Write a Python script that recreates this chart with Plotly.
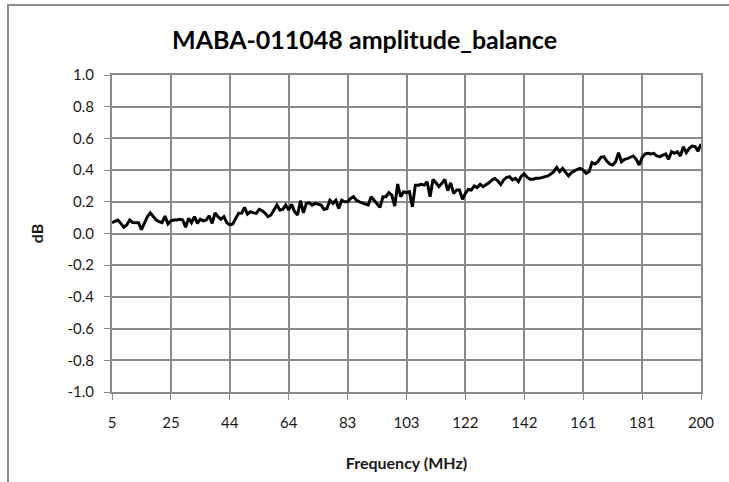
import plotly.graph_objects as go

# Frequency axis: 201 points from 5 to 200 MHz (step 0.975 MHz)
n_points = 201
f_start = 5.0
f_step = 0.975
freq_mhz = [round(f_start + f_step * i, 3) for i in range(n_points)]

amp_balance_db = [
    0.068, 0.075, 0.085, 0.064, 0.040, 0.054, 0.085, 0.070, 0.070, 0.068,
    0.025, 0.064, 0.106, 0.130, 0.110, 0.085, 0.075, 0.068, 0.110, 0.060,
    0.080, 0.085, 0.085, 0.090, 0.085, 0.040, 0.095, 0.068, 0.106, 0.064,
    0.090, 0.080, 0.085, 0.112, 0.064, 0.130, 0.106, 0.090, 0.106, 0.068,
    0.054, 0.060, 0.095, 0.127, 0.127, 0.165, 0.123, 0.138, 0.130, 0.127,
    0.152, 0.144, 0.127, 0.106, 0.117, 0.152, 0.180, 0.148, 0.152, 0.180,
    0.148, 0.184, 0.138, 0.117, 0.207, 0.130, 0.190, 0.194, 0.179, 0.190,
    0.185, 0.179, 0.152, 0.158, 0.210, 0.190, 0.210, 0.158, 0.210, 0.200,
    0.200, 0.221, 0.232, 0.210, 0.200, 0.194, 0.185, 0.179, 0.232, 0.210,
    0.190, 0.165, 0.232, 0.232, 0.257, 0.242, 0.173, 0.312, 0.232, 0.263,
    0.257, 0.263, 0.168, 0.305, 0.305, 0.310, 0.305, 0.326, 0.232, 0.341,
    0.320, 0.295, 0.316, 0.341, 0.270, 0.320, 0.253, 0.274, 0.274, 0.215,
    0.253, 0.278, 0.274, 0.300, 0.290, 0.310, 0.295, 0.305, 0.320, 0.337,
    0.347, 0.333, 0.310, 0.338, 0.354, 0.358, 0.338, 0.348, 0.327, 0.363,
    0.375, 0.354, 0.342, 0.342, 0.348, 0.348, 0.354, 0.358, 0.363, 0.375,
    0.390, 0.417, 0.390, 0.411, 0.390, 0.363, 0.384, 0.396, 0.405, 0.411,
    0.400, 0.380, 0.390, 0.447, 0.439, 0.453, 0.480, 0.485, 0.457, 0.439,
    0.432, 0.453, 0.510, 0.453, 0.468, 0.472, 0.480, 0.489, 0.468, 0.432,
    0.480, 0.502, 0.506, 0.502, 0.506, 0.489, 0.485, 0.495, 0.502, 0.468,
    0.516, 0.506, 0.516, 0.489, 0.548, 0.510, 0.537, 0.552, 0.548, 0.520,
    0.565,
]

x_tick_labels = ["5", "25", "44", "64", "83", "103", "122", "142", "161", "181", "200"]
x_tick_vals = freq_mhz[::20]

y_tick_vals = [-1.0, -0.8, -0.6, -0.4, -0.2, 0.0, 0.2, 0.4, 0.6, 0.8, 1.0]
y_tick_labels = ["-1.0", "-0.8", "-0.6", "-0.4", "-0.2", "0.0", "0.2", "0.4", "0.6", "0.8", "1.0"]

title_text = "MABA-011048 amplitude_balance"
x_title = "Frequency (MHz)"
y_title = "dB"

FONT = "Lato, 'Open Sans', sans-serif"
GRID = "#8a8a8a"
TXT = "#1a1a1a"

fig = go.Figure()
fig.add_trace(go.Scatter(
    x=freq_mhz, y=amp_balance_db, mode="lines",
    line=dict(color="#000000", width=3),
    showlegend=False, hoverinfo="x+y",
))

fig.update_layout(
    width=729, height=482,
    margin=dict(l=112, r=28, t=75, b=90),
    paper_bgcolor="white", plot_bgcolor="white",
    font=dict(family=FONT, color=TXT, size=15),
    title=dict(text="<b>" + title_text + "</b>", x=0.5, xanchor="center",
               y=1 - 40 / 482, yanchor="middle",
               font=dict(family=FONT, size=25, color="#000000")),
    xaxis=dict(
        range=[freq_mhz[0], freq_mhz[-1]],
        tickmode="array", tickvals=x_tick_vals, ticktext=x_tick_labels,
        showgrid=True, gridcolor=GRID, gridwidth=2,
        showline=True, linecolor=GRID, linewidth=2, mirror=True,
        ticks="outside", ticklen=6, tickcolor=GRID, tickwidth=1,
        ticklabelstandoff=10,
        tickfont=dict(size=15, color=TXT),
        zeroline=False,
        title=dict(text="<b>" + x_title + "</b>", font=dict(size=16, color=TXT), standoff=28),
    ),
    yaxis=dict(
        range=[-1.0, 1.0],
        tickmode="array", tickvals=y_tick_vals, ticktext=y_tick_labels,
        showgrid=True, gridcolor=GRID, gridwidth=2,
        showline=True, linecolor=GRID, linewidth=2, mirror=True,
        ticks="outside", ticklen=6, tickcolor=GRID, tickwidth=1,
        ticklabelstandoff=7,
        tickfont=dict(size=15, color=TXT),
        zeroline=False,
        title=dict(text="<b>" + y_title + "</b>", font=dict(size=16, color=TXT), standoff=20),
    ),
)

# Chart-area border (left and top visible, right/bottom clipped off the image)
pw, ph = 729 - 112 - 28, 482 - 75 - 90
fig.add_shape(type="rect", xref="paper", yref="paper",
              x0=(8 - 112) / pw, x1=(740 - 112) / pw,
              y0=(392 - 495) / ph, y1=(392 - 5) / ph,
              line=dict(color="#8c8c8c", width=2), fillcolor="rgba(0,0,0,0)", layer="below")

fig.write_html("out.html", config={"displayModeBar": False},
               post_script="document.body.style.margin='0px';document.body.style.overflow='hidden';")
